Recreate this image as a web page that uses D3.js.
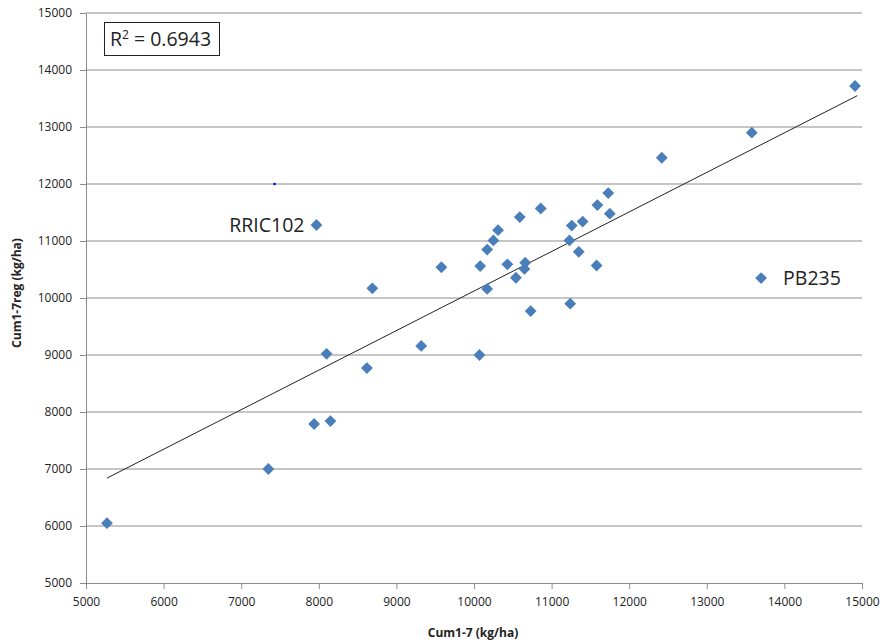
<!DOCTYPE html>
<html>
<head>
	<meta charset="utf-8">
	<script src="https://d3js.org/d3.v7.min.js"></script>
	<style>
		body { margin: 0; background: #fff; }
		text { font-family: "Open Sans", "Noto Sans", sans-serif; }
	</style>
</head>
<body>
<script>
	"use strict";
	// cultivar yields
	var cum17 = [5270, 7350, 7940, 8150, 8100, 8620, 8690, 7970, 9320, 9580, 10070, 10080,
		10170, 10170, 10250, 10310, 10430, 10540, 10590, 10660, 10650, 10730, 10860,
		11230, 11240, 11260, 11350, 11400, 11580, 11590, 11730, 11750, 12420, 13580, 14910, 13700];
	var cum17reg = [6050, 7000, 7790, 7840, 9020, 8770, 10170, 11280, 9160, 10540, 9000, 10560,
		10160, 10850, 11010, 11190, 10590, 10355, 11420, 10620, 10510, 9770, 11570,
		11010, 9900, 11270, 10810, 11340, 10570, 11630, 11840, 11480, 12460, 12900, 13720, 10350];
	var labelNames = ["RRIC102", "PB235"];
	var labelX = [7970, 13700];
	var labelY = [11280, 10350];
	var stray = [[7430, 12000]];
	var trendX = [5270, 14940];
	var trendY = [6840, 13550];
	var ticks = [5000, 6000, 7000, 8000, 9000, 10000, 11000, 12000, 13000, 14000, 15000];

	var W = 880, H = 643;
	var svg = d3.select("body").append("svg").attr("width", W).attr("height", H);

	var x = d3.scaleLinear().domain([5000, 15000]).range([86, 862]);
	var y = d3.scaleLinear().domain([5000, 15000]).range([583, 13]);

	// horizontal gridlines
	svg.append("g").selectAll("line").data(ticks.slice(1)).enter().append("line")
		.attr("x1", 86).attr("x2", 862)
		.attr("y1", function (d) { return y(d); }).attr("y2", function (d) { return y(d); })
		.attr("stroke", "#8c8c8c").attr("stroke-width", 1);

	var gx = svg.append("g").attr("transform", "translate(0,583)")
		.call(d3.axisBottom(x).tickValues(ticks).tickSize(6).tickPadding(8).tickFormat(d3.format("d")));
	var gy = svg.append("g").attr("transform", "translate(86,0)")
		.call(d3.axisLeft(y).tickValues(ticks).tickSize(6).tickPadding(8).tickFormat(d3.format("d")));
	[gx, gy].forEach(function (g) {
		g.selectAll("path,line").attr("stroke", "#8c8c8c");
		g.selectAll("text").attr("font-size", 12).attr("fill", "#222")
			.attr("font-family", "'Open Sans', sans-serif");
	});

	// trend line
	svg.append("line")
		.attr("x1", x(trendX[0])).attr("y1", y(trendY[0]))
		.attr("x2", x(trendX[1])).attr("y2", y(trendY[1]))
		.attr("stroke", "#222").attr("stroke-width", 1);

	var diamond = d3.symbol().type(d3.symbolSquare).size(70);
	svg.append("g").selectAll("path").data(cum17).enter().append("path")
		.attr("d", diamond)
		.attr("transform", function (d, i) {
			return "translate(" + x(d) + "," + y(cum17reg[i]) + ") rotate(45)";
		})
		.attr("fill", "#4a7ebb");

	svg.selectAll("circle.stray").data(stray).enter().append("circle")
		.attr("cx", function (d) { return x(d[0]); })
		.attr("cy", function (d) { return y(d[1]); })
		.attr("r", 1.3).attr("fill", "#0000ff");

	// point labels
	svg.append("text").attr("x", x(labelX[0]) - 12).attr("y", y(labelY[0]) + 7)
		.attr("text-anchor", "end").attr("font-size", 19.5).attr("fill", "#222").text(labelNames[0]);
	svg.append("text").attr("x", x(labelX[1]) + 22).attr("y", y(labelY[1]) + 7)
		.attr("text-anchor", "start").attr("font-size", 19.5).attr("fill", "#222").text(labelNames[1]);

	// R squared box
	svg.append("rect").attr("x", 104.5).attr("y", 22.5).attr("width", 115).attr("height", 33)
		.attr("fill", "#fff").attr("stroke", "#222");
	var r2 = svg.append("text").attr("x", 110).attr("y", 46).attr("font-size", 19.5).attr("fill", "#222");
	r2.append("tspan").text("R");
	r2.append("tspan").attr("dy", -7).attr("font-size", 12).text("2");
	r2.append("tspan").attr("dy", 7).text(" = 0.6943");

	svg.append("text").attr("x", 473).attr("y", 637).attr("text-anchor", "middle")
		.attr("font-size", 12).attr("font-weight", "bold").attr("fill", "#222").text("Cum1-7 (kg/ha)");
	svg.append("text").attr("transform", "translate(21,293) rotate(-90)").attr("text-anchor", "middle")
		.attr("font-size", 12).attr("font-weight", "bold").attr("fill", "#222").text("Cum1-7reg (kg/ha)");
</script>
</body>
</html>
